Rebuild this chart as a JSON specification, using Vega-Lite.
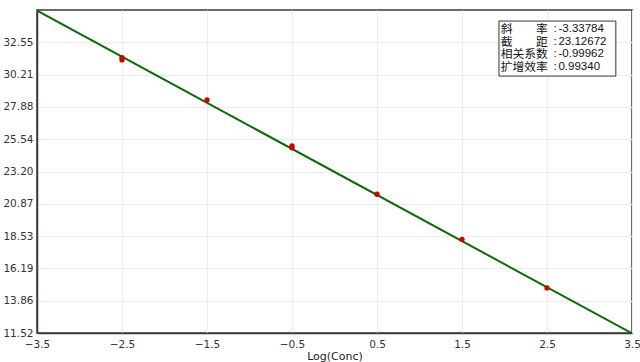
{
  "$schema": "https://vega.github.io/schema/vega-lite/v6.json",
  "width": 595,
  "height": 323,
  "autosize": "none",
  "padding": {"left": 37, "top": 10, "right": 8, "bottom": 29},
  "background": "white",
  "config": {
    "view": {"stroke": "#3a3a3a", "strokeWidth": 1.5},
    "font": "DejaVu Sans",
    "axis": {
      "labelOverlap": false, "labelBound": false, "labelFlush": false,
      "labelFontSize": 10.5, "labelColor": "#333", "ticks": false,
      "domainColor": "#3a3a3a", "domainWidth": 1.5,
      "grid": true, "gridColor": "#ececec", "gridWidth": 1,
      "titleFontWeight": "normal", "tickCount": 30
    }
  },
  "datasets": {
    "pts": [
      {"logc": -2.5, "ct": 31.45},
      {"logc": -2.5, "ct": 31.28},
      {"logc": -1.5, "ct": 28.38},
      {"logc": -0.5, "ct": 25.05},
      {"logc": -0.5, "ct": 24.92},
      {"logc": 0.5, "ct": 21.56},
      {"logc": 1.5, "ct": 18.3},
      {"logc": 2.5, "ct": 14.78}
    ],
    "fit": [
      {"logc": -3.5, "ct": 34.85},
      {"logc": 3.5, "ct": 11.5}
    ],
    "stats": [
      {"label": "斜　　率", "value": "-3.33784", "ct": 33.5},
      {"label": "截　　距", "value": "23.12672", "ct": 32.6},
      {"label": "相关系数", "value": "-0.99962", "ct": 31.7},
      {"label": "扩增效率", "value": "0.99340", "ct": 30.8}
    ]
  },
  "layer": [
    {
      "data": {"name": "fit"},
      "mark": {"type": "line", "color": "#0a6b0a", "strokeWidth": 2, "clip": true},
      "encoding": {
        "x": {
          "field": "logc", "type": "quantitative",
          "scale": {"domain": [-3.5, 3.5], "nice": false, "zero": false},
          "axis": {
            "title": "Log(Conc)", "titleFont": "DejaVu Sans", "titleFontSize": 11, "titleColor": "#222", "titlePadding": 1,
            "values": [-3.5, -2.5, -1.5, -0.5, 0.5, 1.5, 2.5, 3.5], "format": ".1f",
            "labelPadding": 6, "tickCount": 30
          }
        },
        "y": {
          "field": "ct", "type": "quantitative",
          "scale": {"domain": [11.52, 34.89], "nice": false, "zero": false},
          "axis": {
            "title": null,
            "values": [11.52, 13.86, 16.19, 18.53, 20.87, 23.2, 25.54, 27.88, 30.21, 32.55], "format": ".2f",
            "labelPadding": 4, "tickCount": 30
          }
        }
      }
    },
    {
      "data": {"name": "pts"},
      "mark": {"type": "point", "filled": true, "color": "#d10000", "size": 28, "opacity": 1},
      "encoding": {
        "x": {"field": "logc", "type": "quantitative"},
        "y": {"field": "ct", "type": "quantitative"}
      }
    },
    {
      "data": {"values": [{}]},
      "mark": {"type": "rect", "fill": "white", "stroke": "#333", "strokeWidth": 1},
      "encoding": {
        "x": {"datum": 1.935},
        "x2": {"datum": 3.31},
        "y": {"datum": 34.09},
        "y2": {"datum": 30.11}
      }
    },
    {
      "data": {"name": "stats"},
      "mark": {"type": "text", "align": "left", "baseline": "middle", "font": "Noto Sans CJK SC", "fontSize": 11.8, "color": "#111"},
      "encoding": {
        "x": {"datum": 1.955},
        "y": {"field": "ct", "type": "quantitative"},
        "text": {"field": "label"}
      }
    },
    {
      "data": {"name": "stats"},
      "mark": {"type": "text", "align": "left", "baseline": "middle", "font": "Liberation Sans", "fontSize": 11.5, "color": "#111"},
      "encoding": {
        "x": {"datum": 2.575},
        "y": {"field": "ct", "type": "quantitative"},
        "text": {"value": ":"}
      }
    },
    {
      "data": {"name": "stats"},
      "mark": {"type": "text", "align": "left", "baseline": "middle", "font": "Liberation Sans", "fontSize": 11.5, "color": "#111"},
      "encoding": {
        "x": {"datum": 2.635},
        "y": {"field": "ct", "type": "quantitative"},
        "text": {"field": "value"}
      }
    }
  ]
}
